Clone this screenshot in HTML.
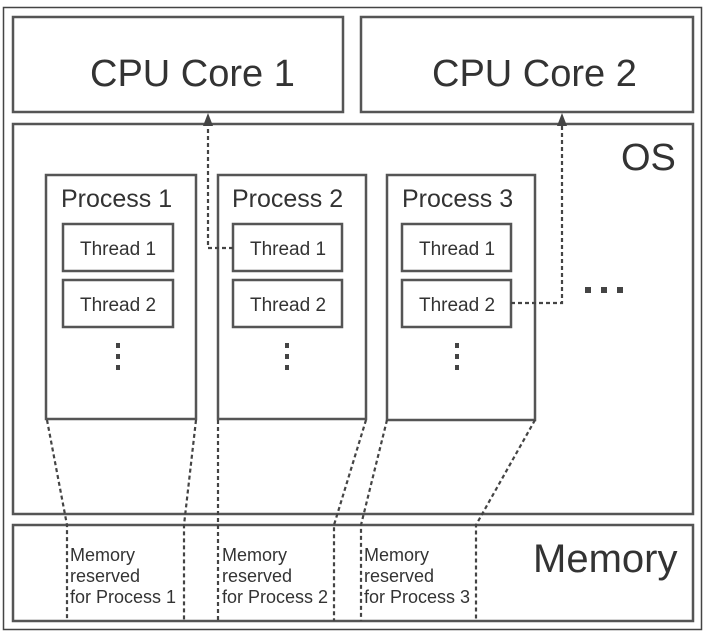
<!DOCTYPE html>
<html><head><style>
body{margin:0;background:#fff;}
svg text{font-family:"Liberation Sans",sans-serif;fill:#333;}
</style></head><body>
<svg width="710" height="634" viewBox="0 0 710 634" xmlns="http://www.w3.org/2000/svg">
<rect x="3.5" y="7.5" width="698" height="622" fill="#fff" stroke="#444" stroke-width="1.5"/>
<g fill="#fff" stroke="#555" stroke-width="2.5">
<rect x="13" y="17" width="330" height="95"/>
<rect x="361" y="17" width="332" height="95"/>
<rect x="13" y="124" width="680" height="390"/>
<rect x="13" y="525" width="680" height="96"/>
<rect x="46" y="175" width="150" height="244"/>
<rect x="218" y="175" width="148" height="244"/>
<rect x="387" y="175" width="148" height="245"/>
<rect x="63" y="224" width="110" height="47"/>
<rect x="63" y="280" width="110" height="47"/>
<rect x="233" y="224" width="109" height="47"/>
<rect x="233" y="280" width="109" height="47"/>
<rect x="402" y="224" width="109" height="47"/>
<rect x="402" y="280" width="109" height="47"/>
</g>
<g font-size="38">
<text x="90" y="86">CPU Core 1</text>
<text x="432" y="86">CPU Core 2</text>
<text x="621" y="170">OS</text>
<text x="533" y="572" font-size="40">Memory</text>
</g>
<g font-size="25">
<text x="61" y="207">Process 1</text>
<text x="232" y="207">Process 2</text>
<text x="402" y="207">Process 3</text>
</g>
<g font-size="19" text-anchor="middle">
<text x="118" y="255">Thread 1</text><text x="118" y="311">Thread 2</text>
<text x="288" y="255">Thread 1</text><text x="288" y="311">Thread 2</text>
<text x="457" y="255">Thread 1</text><text x="457" y="311">Thread 2</text>
</g>
<g font-size="18">
<text x="70" y="561">Memory</text><text x="70" y="582">reserved</text><text x="70" y="603">for Process 1</text>
<text x="222" y="561">Memory</text><text x="222" y="582">reserved</text><text x="222" y="603">for Process 2</text>
<text x="364" y="561">Memory</text><text x="364" y="582">reserved</text><text x="364" y="603">for Process 3</text>
</g>
<g fill="#444">
<rect x="116" y="343" width="4" height="5"/><rect x="116" y="354" width="4" height="5"/><rect x="116" y="365" width="4" height="5"/>
<rect x="285" y="343" width="4" height="5"/><rect x="285" y="354" width="4" height="5"/><rect x="285" y="365" width="4" height="5"/>
<rect x="455" y="343" width="4" height="5"/><rect x="455" y="354" width="4" height="5"/><rect x="455" y="365" width="4" height="5"/>
<rect x="585" y="287" width="6" height="6"/><rect x="601" y="287" width="6" height="6"/><rect x="617" y="287" width="6" height="6"/>
<polygon points="208,113 203,126 213,126"/>
<polygon points="562,113 557,126 567,126"/>
</g>
<g fill="none" stroke="#444" stroke-width="2.2" stroke-dasharray="4,3">
<polyline points="233,248 208,248 208,124"/>
<polyline points="511,303 562,303 562,124"/>
<polyline points="47,420 67,525 67,621"/>
<polyline points="196,420 184,525 184,621"/>
<polyline points="218,420 218,621"/>
<polyline points="366,420 334,525 334,621"/>
<polyline points="387,420 361,525 361,621"/>
<polyline points="535,420 476,525 476,621"/>
</g>
</svg>
</body></html>
